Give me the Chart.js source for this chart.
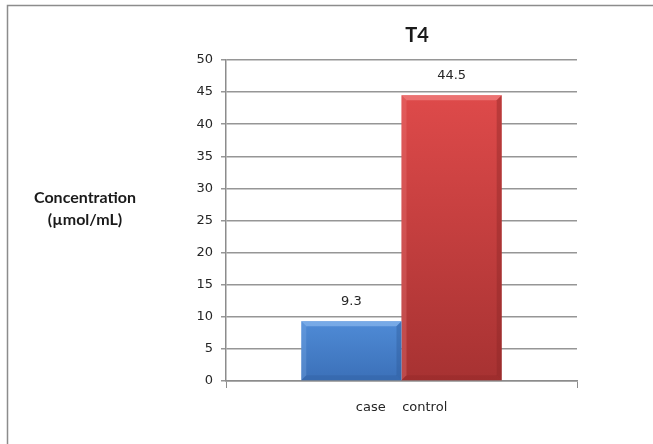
<!DOCTYPE html>
<html>
<head>
<meta charset="utf-8">
<script src="https://cdn.jsdelivr.net/npm/chart.js@4.4.1/dist/chart.umd.min.js"></script>
<style>
  html, body { margin: 0; padding: 0; background: #ffffff; }
  #wrap { width: 653px; height: 444px; position: relative; }
</style>
</head>
<body>
<div id="wrap"><canvas id="c" width="653" height="444"></canvas></div>
<script>
// Chart data
const categories = ['case    control'];
const seriesNames = ['case', 'control'];
const caseValues = [9.3];
const controlValues = [44.5];
const yMin = 0;
const yMax = 50;
const yStep = 5;
const chartTitle = 'T4';
const yTitleLines = ['Concentration', '(\u00b5mol/mL)'];

// Colour palettes per series: [top, bottom, bevel light, bevel dark]
const palettes = [
  ['#4f8bd6', '#3b70b8', '#86b4ec', '#2d5b99'],
  ['#de4a4a', '#a73232', '#f08080', '#8a2626']
];

function barFill(idx) {
  return function (ctx) {
    const chart = ctx.chart;
    const area = chart.chartArea;
    if (!area) return palettes[idx][0];
    const y = chart.scales.y;
    const top = y.getPixelForValue(ctx.raw);
    const base = y.getPixelForValue(0);
    const g = chart.ctx.createLinearGradient(0, top, 0, base);
    g.addColorStop(0, palettes[idx][0]);
    g.addColorStop(1, palettes[idx][1]);
    return g;
  };
}

// Outer frame, title and horizontal y-axis title
const decorations = {
  id: 'decorations',
  beforeDraw(chart) {
    const c = chart.ctx;
    c.save();
    c.strokeStyle = '#8c8c8c';
    c.lineWidth = 1.5;
    c.beginPath();
    c.moveTo(7.5, 444);
    c.lineTo(7.5, 5.5);
    c.lineTo(653, 5.5);
    c.stroke();
    c.restore();
  },
  afterDraw(chart) {
    const c = chart.ctx;
    c.save();
    c.fillStyle = '#1a1a1a';
    c.textAlign = 'center';
    c.textBaseline = 'middle';
    c.font = 'bold 20px Lato, "Open Sans", sans-serif';
    c.fillText(chartTitle, 417, 36);
    c.font = 'bold 16px Lato, "Open Sans", sans-serif';
    c.fillText(yTitleLines[0], 85, 198);
    c.fillText(yTitleLines[1], 85, 220);
    c.restore();
  }
};

// Bevel edges and value labels on each bar
const bevelAndLabels = {
  id: 'bevelAndLabels',
  afterDatasetsDraw(chart) {
    const c = chart.ctx;
    chart.data.datasets.forEach((ds, di) => {
      const meta = chart.getDatasetMeta(di);
      meta.data.forEach((el, i) => {
        const p = el.getProps(['x', 'y', 'base', 'width'], true);
        const l = p.x - p.width / 2, r = p.x + p.width / 2;
        const t = p.y, b = p.base;
        const bv = 5;
        const pal = palettes[di];
        c.save();
        // top bevel
        c.globalAlpha = 0.75;
        c.fillStyle = pal[2];
        c.beginPath();
        c.moveTo(l, t); c.lineTo(r, t); c.lineTo(r - bv, t + bv); c.lineTo(l + bv, t + bv);
        c.closePath(); c.fill();
        // left bevel
        c.globalAlpha = 0.3;
        c.beginPath();
        c.moveTo(l, t); c.lineTo(l + bv, t + bv); c.lineTo(l + bv, b - bv); c.lineTo(l, b);
        c.closePath(); c.fill();
        // right bevel
        c.globalAlpha = 0.4;
        c.fillStyle = pal[3];
        c.beginPath();
        c.moveTo(r, t); c.lineTo(r - bv, t + bv); c.lineTo(r - bv, b - bv); c.lineTo(r, b);
        c.closePath(); c.fill();
        // bottom bevel
        c.globalAlpha = 0.3;
        c.beginPath();
        c.moveTo(l, b); c.lineTo(l + bv, b - bv); c.lineTo(r - bv, b - bv); c.lineTo(r, b);
        c.closePath(); c.fill();
        c.restore();

        // value label
        c.save();
        c.fillStyle = '#262626';
        c.font = '13px "DejaVu Sans", Verdana, sans-serif';
        c.textAlign = 'center';
        c.textBaseline = 'middle';
        c.fillText(String(ds.data[i]), p.x, t - 20);
        c.restore();
      });
    });
  }
};

new Chart(document.getElementById('c'), {
  type: 'bar',
  data: {
    labels: categories,
    datasets: [
      { label: seriesNames[0], data: caseValues, backgroundColor: barFill(0), borderWidth: 0 },
      { label: seriesNames[1], data: controlValues, backgroundColor: barFill(1), borderWidth: 0 }
    ]
  },
  options: {
    responsive: false,
    animation: false,
    devicePixelRatio: 1,
    layout: { padding: { left: 0, right: 76, top: 60, bottom: 0 } },
    categoryPercentage: 0.571,
    barPercentage: 1.0,
    plugins: {
      legend: { display: false },
      title: { display: false },
      tooltip: { enabled: false }
    },
    scales: {
      x: {
        offset: true,
        grid: {
          offset: true,
          drawOnChartArea: false,
          drawTicks: true,
          tickLength: 7,
          color: '#8c8c8c'
        },
        border: { color: '#8c8c8c', width: 1.5 },
        ticks: {
          color: '#262626',
          font: { family: '"DejaVu Sans", Verdana, sans-serif', size: 13 },
          padding: 12,
          maxRotation: 0
        },
        afterFit(scale) { scale.height = 63; }
      },
      y: {
        min: yMin,
        max: yMax,
        ticks: {
          stepSize: yStep,
          color: '#262626',
          font: { family: '"DejaVu Sans", Verdana, sans-serif', size: 13 },
          padding: 8
        },
        grid: {
          color: '#969696',
          lineWidth: 1.5,
          drawTicks: true,
          tickLength: 5
        },
        border: { color: '#8c8c8c', width: 1.5 },
        afterFit(scale) { scale.width = 226; }
      }
    }
  },
  plugins: [decorations, bevelAndLabels]
});
</script>
</body>
</html>
